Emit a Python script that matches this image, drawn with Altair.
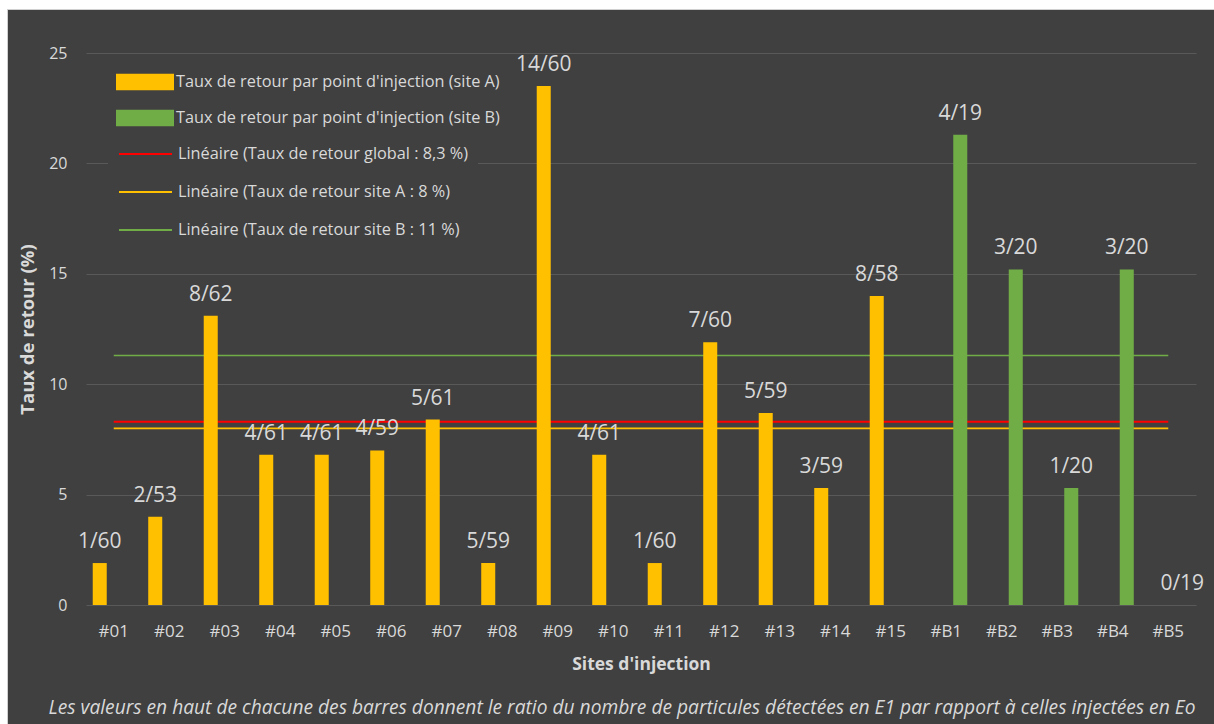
import altair as alt
import pandas as pd

# ---------------- data ----------------
sites = ["#01", "#02", "#03", "#04", "#05", "#06", "#07", "#08", "#09", "#10",
         "#11", "#12", "#13", "#14", "#15", "#B1", "#B2", "#B3", "#B4", "#B5"]
rates = [1.9, 4.0, 13.1, 6.8, 6.8, 7.0, 8.4, 1.9, 23.5, 6.8,
         1.9, 11.9, 8.7, 5.3, 14.0, 21.3, 15.2, 5.3, 15.2, 0.0]
ratios = ["1/60", "2/53", "8/62", "4/61", "4/61", "4/59", "5/61", "5/59", "14/60", "4/61",
          "1/60", "7/60", "5/59", "3/59", "8/58", "4/19", "3/20", "1/20", "3/20", "0/19"]
site_group = ["A"] * 15 + ["B"] * 5

bar_labels = ["Taux de retour par point d'injection (site A)",
              "Taux de retour par point d'injection (site B)"]
bar_colors = ["#FFC000", "#70AD47"]

line_labels = ["Linéaire (Taux de retour global : 8,3 %)",
               "Linéaire (Taux de retour site A : 8 %)",
               "Linéaire (Taux de retour site B : 11 %)"]
line_values = [8.3, 8.0, 11.3]
line_colors = ["#FF0000", "#FFC000", "#70AD47"]
line_widths = [2.0, 1.5, 1.5]
line_span = ["#01", "#B5"]

y_ticks = [0, 5, 10, 15, 20, 25]
x_title = "Sites d'injection"
y_title = "Taux de retour (%)"
footer = ("Les valeurs en haut de chacune des barres donnent le ratio du nombre de "
          "particules détectées en E1 par rapport à celles injectées en Eo")

# ---------------- tables ----------------
bars_df = pd.DataFrame({
    "site": sites,
    "rate": rates,
    "ratio": ratios,
    "group": site_group,
    "legend": [bar_labels[0] if g == "A" else bar_labels[1] for g in site_group],
})
lines_df = pd.DataFrame([
    {"site": s, "rate": v, "legend": lab}
    for lab, v in zip(line_labels, line_values)
    for s in line_span
])
one_df = pd.DataFrame({"k": [0]})

# ---------------- layout ----------------
W, H = 1110, 552
PAD = {"left": 86, "top": 53, "right": 18, "bottom": 119}
FONT = "Open Sans"
TXT = "#D9D9D9"
BG = "#404040"

x_enc = alt.X(
    "site:N", sort=sites,
    scale=alt.Scale(domain=sites, paddingInner=0, paddingOuter=0),
    axis=alt.Axis(title=x_title, labelAngle=0, domain=False, ticks=False,
                  labelPadding=18, labelFontSize=17, labelColor=TXT, labelFont=FONT,
                  titleFont=FONT, titleFontSize=17.5, titleFontWeight="bold",
                  titleColor=TXT, titlePadding=16, grid=False),
)
y_enc = alt.Y(
    "rate:Q",
    scale=alt.Scale(domain=[0, 25], nice=False),
    axis=alt.Axis(values=y_ticks, title=y_title, domain=False, ticks=False,
                  grid=True, gridColor="#595959", gridWidth=1,
                  labelPadding=19, labelFontSize=16, labelColor=TXT, labelFont=FONT,
                  titleFont=FONT, titleFontSize=18.5, titleFontWeight="bold",
                  titleColor=TXT, titlePadding=11),
)
x_off = alt.XOffset("group:N", scale=alt.Scale(domain=["A", "B"],
                                                paddingInner=0.5, paddingOuter=0.24))

bar_legend = alt.Legend(
    title=None, orient="none", legendX=20, legendY=10.5, padding=10,
    fillColor=BG, symbolType="M-1,-0.29L1,-0.29L1,0.29L-1,0.29Z",
    symbolSize=3364, symbolStrokeWidth=0, symbolOpacity=1, clipHeight=17,
    rowPadding=19, labelOffset=2, labelFontSize=16.3, labelColor=TXT,
    labelLimit=600, labelFont=FONT,
)
line_legend = alt.Legend(
    title=None, orient="none", legendX=22, legendY=82.5, padding=10,
    fillColor=BG, symbolType="stroke", symbolSize=2809, symbolStrokeWidth=2,
    symbolOpacity=1, clipHeight=17, rowPadding=21, labelOffset=5,
    labelFontSize=16.3, labelColor=TXT, labelLimit=600, labelFont=FONT,
)

# white frame strips (outside plot area)
strip_top = alt.Chart(one_df).mark_rect(color="#FFFFFF").encode(
    x=alt.value(-86), x2=alt.value(W + 18), y=alt.value(-53), y2=alt.value(-44))
strip_left = alt.Chart(one_df).mark_rect(color="#FFFFFF").encode(
    x=alt.value(-86), x2=alt.value(-79), y=alt.value(-53), y2=alt.value(H + 119))
edge_top = alt.Chart(one_df).mark_rect(color="#D0D0D0").encode(
    x=alt.value(-79), x2=alt.value(W + 18), y=alt.value(-44), y2=alt.value(-43))
edge_left = alt.Chart(one_df).mark_rect(color="#D0D0D0").encode(
    x=alt.value(-79), x2=alt.value(-78), y=alt.value(-44), y2=alt.value(H + 119))

lines = alt.Chart(lines_df).mark_line().encode(
    x=x_enc, y=y_enc,
    stroke=alt.Stroke("legend:N",
                      scale=alt.Scale(domain=line_labels, range=line_colors),
                      legend=line_legend),
    strokeWidth=alt.StrokeWidth("legend:N",
                                scale=alt.Scale(domain=line_labels, range=line_widths),
                                legend=None),
)

bars = alt.Chart(bars_df).mark_bar().encode(
    x=x_enc, y=y_enc, xOffset=x_off,
    fill=alt.Fill("legend:N",
                  scale=alt.Scale(domain=bar_labels, range=bar_colors),
                  legend=bar_legend),
)

texts = alt.Chart(bars_df).mark_text(
    dy=-21, baseline="middle", align="center", fontSize=21, font=FONT, color=TXT
).encode(x=x_enc, y=y_enc, xOffset=x_off, text="ratio:N")

note = alt.Chart(one_df).mark_text(
    text=footer, align="center", baseline="middle", fontStyle="italic",
    fontSize=19.2, font=FONT, color=TXT
).encode(x=alt.value(536), y=alt.value(H + 103))

chart = alt.layer(strip_top, strip_left, edge_top, edge_left, lines, bars, texts, note).properties(
    width=W, height=H, padding=PAD,
    autosize=alt.AutoSizeParams(type="none"),
    background=BG,
).resolve_scale(
    stroke="independent", fill="independent"
).configure_view(strokeWidth=0)

chart.save("out.html", embed_options={"renderer": "svg", "actions": False})
